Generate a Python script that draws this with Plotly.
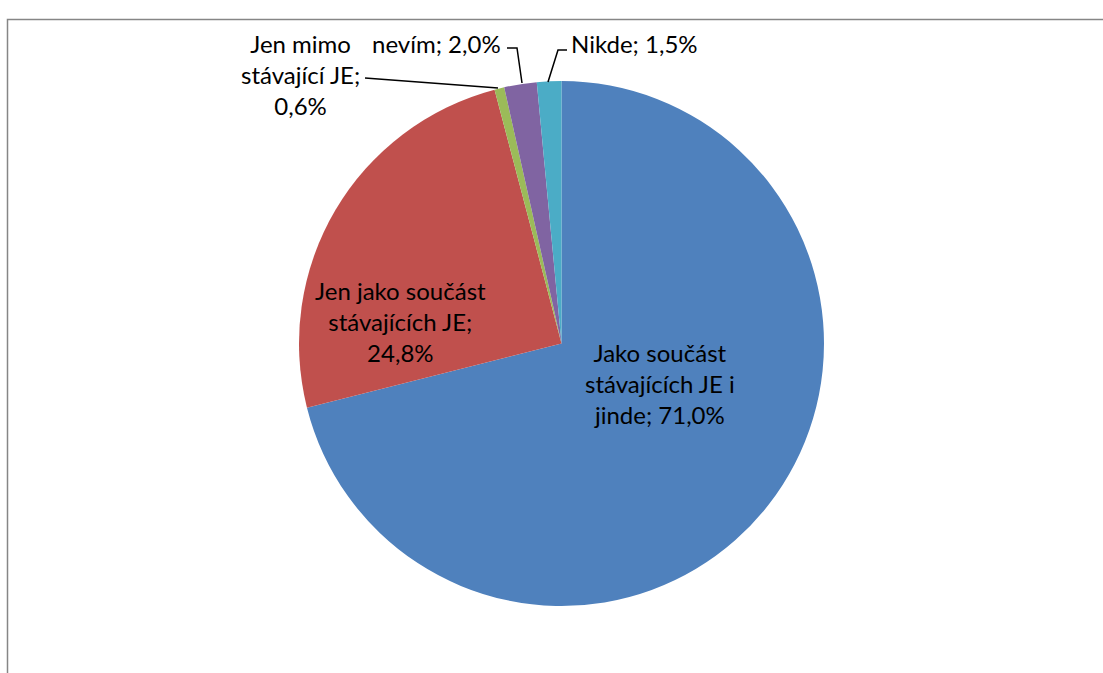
import plotly.graph_objects as go

# Slice data (clockwise from 12 o'clock)
labels = ["Jako součást stávajících JE i jinde", "Jen jako součást stávajících JE",
          "Jen mimo stávající JE", "nevím", "Nikde"]
values = [71.0, 24.8, 0.6, 2.0, 1.5]
colors = ["#4F81BD", "#C0504D", "#9BBB59", "#8064A2", "#4BACC6"]

# Label texts as shown in the chart (Czech decimal comma)
pct = [f"{v:.1f}".replace(".", ",") + "%" for v in values]
label_texts = [
    "Jako součást<br>stávajících JE i<br>jinde; " + pct[0],
    "Jen jako součást<br>stávajících JE;<br>" + pct[1],
    "Jen mimo<br>stávající JE;<br>" + pct[2],
    "nevím; " + pct[3],
    "Nikde; " + pct[4],
]

W, H = 1103, 673
FONT = "Lato"


def px(x, y):
    return x / W, 1 - y / H


fig = go.Figure()
fig.add_trace(go.Pie(
    labels=labels, values=values, sort=False, direction="clockwise", rotation=0,
    marker=dict(colors=colors, line=dict(width=0)),
    textinfo="none", hoverinfo="label+percent", showlegend=False,
    domain=dict(x=[299 / W, 824 / W], y=[1 - 606 / H, 1 - 81 / H]),
))

# label anchor positions (pixels) for each slice
label_pos = [(660, 383), (400, 321), (300, 74), (436, 44), (634, 44)]
for txt, (x, y) in zip(label_texts, label_pos):
    ax, ay = px(x, y)
    fig.add_annotation(x=ax, y=ay, xref="paper", yref="paper", text=txt,
                       showarrow=False, font=dict(family=FONT, size=24, color="#000000"),
                       align="center", xanchor="center", yanchor="middle")

# leader lines
leaders = [
    [(365, 78), (498, 88)],
    [(507, 48), (517, 48), (522, 83)],
    [(567, 50), (558, 50), (548, 82)],
]
for pts in leaders:
    path = "M " + " L ".join(f"{px(x, y)[0]},{px(x, y)[1]}" for x, y in pts)
    fig.add_shape(type="path", path=path, xref="paper", yref="paper",
                  line=dict(color="#000000", width=1.5))

# chart area border (only top and left edges are inside the picture)
border = [(7.5, H), (7.5, 19.5), (W, 19.5)]
path = "M " + " L ".join(f"{px(x, y)[0]},{px(x, y)[1]}" for x, y in border)
fig.add_shape(type="path", path=path, xref="paper", yref="paper",
              line=dict(color="#868686", width=1.5))

fig.update_layout(width=W, height=H, margin=dict(l=0, r=0, t=0, b=0),
                  paper_bgcolor="white", plot_bgcolor="white")

fig.write_html("out.html", config={"displayModeBar": False},
               post_script="document.body.style.margin='0px';"
                           "document.body.style.overflow='hidden';")
